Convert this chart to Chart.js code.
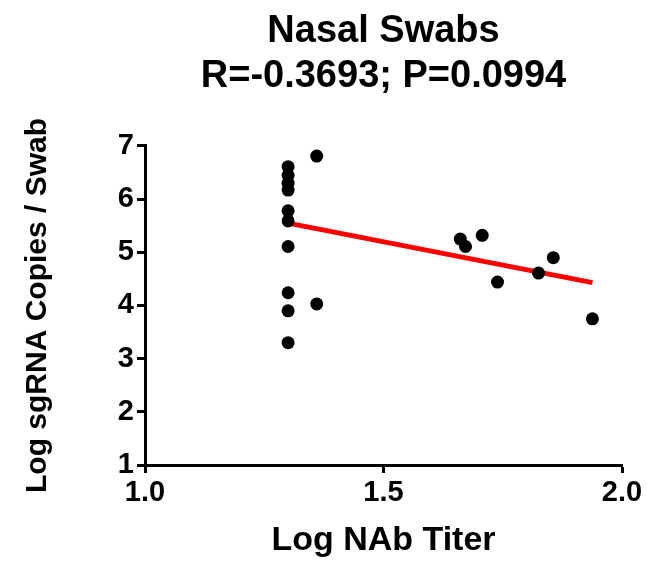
<!DOCTYPE html>
<html>
<head>
<meta charset="utf-8">
<script src="https://cdn.jsdelivr.net/npm/chart.js@4/dist/chart.umd.min.js"></script>
<style>
  html, body { margin: 0; padding: 0; background: #fff; }
  #wrap { width: 647px; height: 562px; }
</style>
</head>
<body>
<div id="wrap"><canvas id="scatterChart"></canvas></div>
<script>
// log NAb titer vs log sgRNA copies per swab
var titerValues = [1.30, 1.30, 1.30, 1.30, 1.30, 1.30, 1.30, 1.30, 1.30, 1.30,
                   1.36, 1.36, 1.661, 1.672, 1.707, 1.739, 1.825, 1.856, 1.938];
var copyValues  = [6.61, 6.45, 6.30, 6.17, 5.78, 5.59, 5.11, 4.24, 3.90, 3.30,
                   6.81, 4.03, 5.25, 5.11, 5.32, 4.44, 4.61, 4.90, 3.75];
// regression line ends
var fitX = [1.30, 1.938];
var fitY = [5.55, 4.43];
var xTicks = [1.0, 1.5, 2.0];
var yTicks = [1, 2, 3, 4, 5, 6, 7];

var font = "'Liberation Sans', Arial, Helvetica, sans-serif";

var points = titerValues.map(function (x, i) { return { x: x, y: copyValues[i] }; });
var fitLine = fitX.map(function (x, i) { return { x: x, y: fitY[i] }; });

new Chart("scatterChart", {
  type: "scatter",
  data: {
    datasets: [
      {
        label: "Nasal Swabs",
        data: points,
        pointRadius: 6.5,
        pointBackgroundColor: "#000",
        pointBorderWidth: 0,
        order: 0,
      },
      {
        label: "Fit",
        data: fitLine,
        showLine: true,
        borderColor: "#ff0000",
        borderWidth: 5,
        pointRadius: 0,
        order: 1,
      },
    ],
  },
  options: {
    responsive: true,
    maintainAspectRatio: false,
    animation: false,
    layout: { padding: { left: 16, right: 25, top: 0, bottom: 0 } },
    plugins: {
      legend: { display: false },
      tooltip: { enabled: false },
      title: {
        display: true,
        fullSize: false,
        text: ["Nasal Swabs", "R=-0.3693; P=0.0994"],
        color: "#000",
        font: { family: font, size: 38, weight: "bold", lineHeight: 1.184 },
        padding: { top: 9, bottom: 47 },
      },
    },
    scales: {
      x: {
        type: "linear",
        min: 1.0,
        max: 2.0,
        afterBuildTicks: function (s) { s.ticks = xTicks.map(function (v) { return { value: v }; }); },
        afterFit: function (s) { s.height = 97; },
        ticks: {
          color: "#000",
          font: { family: font, size: 29, weight: "bold" },
          padding: 3,
          callback: function (v) { return Number(v).toFixed(1); },
        },
        grid: { drawOnChartArea: false, color: "#000", tickLength: 8, tickWidth: 3, tickColor: "#000" },
        border: { color: "#000", width: 3 },
        title: {
          display: true,
          text: "Log NAb Titer",
          color: "#000",
          font: { family: font, size: 34, weight: "bold" },
          padding: { top: 4, bottom: 1 },
        },
      },
      y: {
        type: "linear",
        min: 1,
        max: 7,
        afterBuildTicks: function (s) { s.ticks = yTicks.map(function (v) { return { value: v }; }); },
        afterFit: function (s) { s.width = 129; },
        ticks: {
          color: "#000",
          font: { family: font, size: 29, weight: "bold" },
          padding: 3,
        },
        grid: { drawOnChartArea: false, color: "#000", tickLength: 8, tickWidth: 3, tickColor: "#000" },
        border: { color: "#000", width: 3 },
        title: {
          display: true,
          text: "Log sgRNA Copies / Swab",
          color: "#000",
          font: { family: font, size: 30, weight: "bold" },
          padding: { top: 4, bottom: 4 },
        },
      },
    },
  },
});
</script>
</body>
</html>
